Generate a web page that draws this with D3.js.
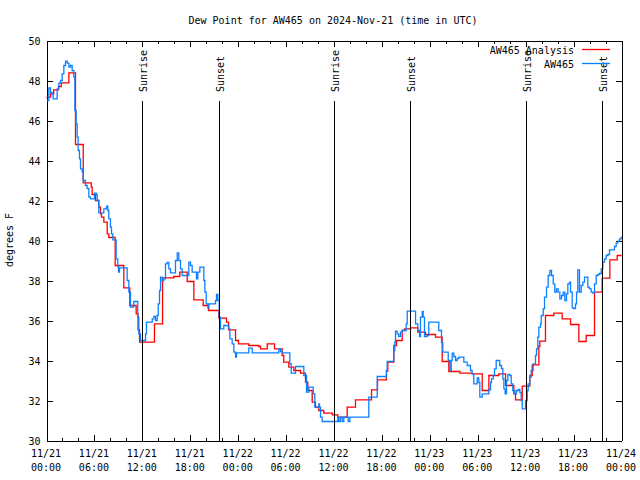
<!DOCTYPE html>
<html><head><meta charset="utf-8">
<script src="https://cdn.jsdelivr.net/npm/d3@7"></script>
<style>
body{margin:0;background:#fff}
svg{display:block}
text{font-family:"DejaVu Sans Mono",monospace;font-size:10px;fill:#000}
</style></head><body>
<svg id="chart" width="640" height="480"></svg>
<script>
const chartTitle = "Dew Point for AW465 on 2024-Nov-21 (time in UTC)";
const yAxisLabel = "degrees F";
const startUTC = Date.UTC(2024, 10, 21);
const yTickValues = [30, 32, 34, 36, 38, 40, 42, 44, 46, 48, 50];
const sunriseHours = [12.03, 36.05, 60.07];
const sunsetHours = [21.65, 45.6, 69.62];
const legendNames = ["AW465 Analysis", "AW465"];
const seriesColors = ["#ff0000", "#0a80ff"];

// [hours since 11/21 00:00 UTC, dew point F]
const analysisObs = [
[0.0,47.17],[0.5,47.33],[0.9,47.53],[1.5,47.7],[1.85,47.88],[2.8,48.38],[3.63,44.8],[4.6,42.88],[5.6,42.67],[5.72,42.3],
[6.14,42.0],[6.55,41.67],[6.76,41.33],[6.89,41.17],[7.18,40.92],[7.6,40.33],[7.8,40.15],[8.6,38.75],[9.68,37.63],[10.43,36.75],
[11.23,36.33],[11.46,35.53],[11.65,34.92],[13.52,35.83],[14.53,38.13],[15.94,38.2],[16.69,38.42],[17.62,37.95],[18.45,37.03],[19.62,36.75],
[20.29,36.5],[21.58,36.12],[22.54,35.92],[22.79,35.53],[23.67,35.0],[24.04,34.83],[25.33,34.75],[26.58,34.7],[26.8,34.58],[27.64,34.83],
[28.55,34.58],[29.51,34.25],[29.71,33.92],[30.34,33.67],[30.97,33.5],[31.81,33.37],[32.43,32.92],[32.72,32.5],[33.27,31.92],[33.68,31.67],
[34.1,31.5],[34.72,31.37],[35.78,31.28],[36.48,31.17],[37.65,31.67],[38.69,32.03],[40.7,32.53],[41.45,33.03],[42.57,33.47],[42.74,33.92],
[43.49,34.75],[43.83,35.0],[44.54,35.5],[44.83,35.58],[45.58,35.63],[46.49,35.42],[47.46,35.3],[48.71,35.17],[49.55,33.95],[50.38,33.45],
[51.75,33.37],[53.31,33.33],[54.56,32.5],[55.39,33.25],[56.64,33.33],[57.48,32.75],[58.52,32.33],[58.73,32.03],[59.57,32.72],[60.52,33.25],
[60.82,33.78],[61.65,34.7],[61.77,34.97],[62.48,36.25],[63.52,36.37],[64.57,36.08],[65.62,35.8],[66.66,34.95],[67.58,35.25],[68.62,37.42],
[69.58,38.12],[70.54,39.03],[71.46,39.25],[72.0,39.25]
];

const stationObs = [
[0.08,47.0],[0.29,47.63],[0.5,47.4],[0.71,47.3],[0.83,47.08],[1.33,47.58],[1.54,47.87],[1.75,48.0],[1.96,48.33],[2.17,48.75],
[2.38,48.97],[2.59,48.87],[2.8,48.67],[3.0,48.75],[3.21,48.5],[3.42,48.17],[3.55,46.5],[3.71,45.83],[3.84,45.17],[3.96,44.5],
[4.13,44.08],[4.26,43.58],[4.47,43.45],[4.59,43.0],[4.88,42.75],[5.09,42.6],[5.3,42.17],[5.51,42.08],[6.01,42.37],[6.22,42.3],
[6.34,42.0],[6.55,41.38],[7.18,41.58],[7.51,41.72],[7.68,41.5],[7.8,41.08],[8.01,40.67],[8.14,40.33],[8.3,40.03],[8.72,39.08],
[8.93,38.7],[9.02,38.42],[9.14,38.63],[10.1,38.0],[10.31,37.42],[10.52,36.67],[10.93,36.95],[11.43,36.17],[11.56,35.33],[11.77,35.0],
[12.4,35.33],[12.52,35.92],[13.24,36.08],[13.44,36.2],[13.65,36.0],[13.86,36.25],[13.99,36.83],[14.15,37.5],[14.28,38.17],[14.49,38.0],
[14.69,38.08],[14.9,38.83],[15.11,38.9],[15.32,38.58],[15.53,38.38],[16.15,39.0],[16.37,39.38],[16.57,39.0],[16.78,38.58],[16.99,38.25],
[17.82,38.92],[18.03,38.75],[18.24,38.42],[18.78,38.08],[18.95,38.42],[19.2,38.67],[19.7,38.0],[19.83,37.42],[20.0,36.83],[20.2,36.63],
[20.33,36.83],[21.16,37.0],[21.29,37.3],[21.46,37.0],[21.63,36.17],[21.79,35.58],[22.2,35.75],[22.83,35.58],[22.96,35.08],[23.25,34.83],
[23.46,34.42],[23.67,34.17],[23.79,34.38],[25.33,34.62],[25.76,34.38],[29.09,34.58],[29.3,34.45],[29.51,34.38],[30.47,33.83],[30.64,33.37],
[31.18,33.7],[32.22,33.25],[32.56,32.42],[32.85,32.67],[33.4,32.33],[33.6,31.67],[34.1,31.83],[34.19,31.67],[34.31,31.17],[34.52,30.95],
[36.48,31.17],[36.6,30.95],[36.81,31.17],[37.03,30.95],[37.23,31.17],[37.78,30.95],[37.98,31.17],[40.36,32.17],[41.41,33.2],[42.57,33.5],
[42.66,33.95],[43.49,34.5],[43.61,34.92],[43.7,35.47],[43.91,35.33],[44.11,35.2],[44.33,35.42],[44.54,35.5],[45.04,35.83],[45.17,36.47],
[46.21,35.83],[46.49,35.5],[46.71,35.2],[46.83,36.17],[47.05,36.45],[47.17,36.17],[47.33,35.2],[47.67,35.25],[47.87,35.92],[49.12,35.5],
[49.46,34.9],[49.62,34.42],[50.3,34.0],[50.5,33.5],[50.68,34.0],[50.8,34.37],[51.0,34.2],[51.21,34.0],[51.42,34.1],[51.63,34.17],
[52.26,33.92],[52.68,33.75],[53.09,33.5],[53.29,33.33],[53.5,32.83],[53.93,33.13],[54.13,32.9],[54.26,32.17],[54.56,32.33],[55.39,32.53],
[55.6,32.9],[55.72,33.08],[55.94,33.25],[56.1,33.58],[56.31,34.0],[56.75,33.75],[56.97,33.6],[57.14,33.08],[57.27,32.58],[57.43,32.33],
[57.6,33.0],[57.77,33.3],[58.02,33.25],[58.19,32.83],[58.39,32.5],[58.65,32.33],[58.85,32.5],[59.07,32.55],[59.27,32.4],[59.44,32.0],
[59.57,31.58],[59.98,32.0],[60.19,32.5],[60.31,32.83],[60.52,33.17],[60.69,33.5],[60.94,33.83],[61.23,34.25],[61.36,34.58],[61.52,35.17],
[61.65,35.67],[61.86,35.83],[61.95,36.25],[62.2,36.58],[62.36,37.17],[62.61,37.67],[62.82,38.25],[63.03,38.5],[63.24,38.25],[63.45,37.83],
[63.65,37.42],[63.86,37.58],[64.07,37.42],[64.28,37.08],[64.49,37.25],[64.7,37.42],[64.9,37.0],[65.11,37.33],[65.28,37.83],[65.49,37.92],
[65.62,37.42],[65.83,36.63],[66.03,36.6],[66.24,36.83],[66.37,37.42],[66.53,38.53],[66.74,37.42],[66.95,37.75],[67.16,37.92],[67.37,38.17],
[67.58,38.17],[67.78,37.67],[67.99,37.58],[68.2,37.42],[68.41,37.37],[68.62,37.83],[68.83,38.25],[69.04,38.3],[69.25,38.35],[69.46,38.58],
[69.66,38.92],[69.87,39.08],[70.08,39.25],[70.29,39.3],[70.5,39.53],[70.83,39.53],[71.12,39.7],[71.33,39.87],[71.54,39.97],[71.75,40.08],
[71.96,40.2]
];

const toDate = h => new Date(startUTC + h * 3600000);
const L = 46, R = 621, T = 40, B = 440;

const svg = d3.select("#chart");
const g = svg.append("g").attr("transform", "translate(0.5,0.5)");

const x = d3.scaleUtc().domain([toDate(0), toDate(72)]).range([L, R]);
const y = d3.scaleLinear().domain([30, 50]).range([B, T]);

const styleAxis = sel => {
  sel.attr("font-family", null).attr("font-size", null);
  sel.selectAll("path,line").attr("stroke", "#000").attr("shape-rendering", "crispEdges");
};

const majorT = x.ticks(d3.utcHour.every(6));
const minorT = x.ticks(d3.utcHour.every(2));

// bottom axis
g.append("g").attr("transform", `translate(0,${B})`)
  .call(d3.axisBottom(x).tickValues(minorT).tickSize(-3).tickSizeOuter(0).tickFormat(""))
  .call(styleAxis);
g.append("g").attr("transform", `translate(0,${B})`)
  .call(d3.axisBottom(x).tickValues(majorT).tickSize(-6).tickSizeOuter(0).tickFormat(""))
  .call(styleAxis);
// top axis
g.append("g").attr("transform", `translate(0,${T})`)
  .call(d3.axisTop(x).tickValues(minorT).tickSize(-3).tickSizeOuter(0).tickFormat(""))
  .call(styleAxis);
g.append("g").attr("transform", `translate(0,${T})`)
  .call(d3.axisTop(x).tickValues(majorT).tickSize(-6).tickSizeOuter(0).tickFormat(""))
  .call(styleAxis);
// left axis
g.append("g").attr("transform", `translate(${L},0)`)
  .call(d3.axisLeft(y).tickValues(yTickValues).tickSize(-6).tickSizeOuter(0).tickPadding(6).tickFormat(d3.format("d")))
  .call(styleAxis)
  .selectAll("text").attr("dy", "0.35em");
// right axis
g.append("g").attr("transform", `translate(${R},0)`)
  .call(d3.axisRight(y).tickValues(yTickValues).tickSize(-6).tickSizeOuter(0).tickFormat(""))
  .call(styleAxis);

// x tick labels (two lines)
const fmtDay = d3.utcFormat("%m/%d"), fmtTime = d3.utcFormat("%H:%M");
const xl = svg.append("g").selectAll("text").data(majorT).join("text")
  .attr("text-anchor", "middle")
  .attr("x", d => x(d));
xl.append("tspan").attr("x", d => x(d)).attr("y", 457).text(fmtDay);
xl.append("tspan").attr("x", d => x(d)).attr("y", 471).text(fmtTime);

// series
const line = d3.line().x(d => x(toDate(d[0]))).y(d => y(d[1])).curve(d3.curveStepAfter);
g.append("path").datum(analysisObs).attr("d", line)
  .attr("fill", "none").attr("stroke", seriesColors[0]).attr("stroke-width", 1.3);
g.append("path").datum(stationObs).attr("d", line)
  .attr("fill", "none").attr("stroke", seriesColors[1]).attr("stroke-width", 1.3);

// sun events
const sunEvents = sunriseHours.map(h => ({h, label: "Sunrise"}))
  .concat(sunsetHours.map(h => ({h, label: "Sunset"})));
g.append("g").selectAll("line").data(sunEvents).join("line")
  .attr("x1", d => Math.round(x(toDate(d.h)))).attr("x2", d => Math.round(x(toDate(d.h))))
  .attr("y1", 100).attr("y2", B)
  .attr("stroke", "#000").attr("stroke-width", 1).attr("shape-rendering", "crispEdges");
svg.append("g").selectAll("text").data(sunEvents).join("text")
  .attr("transform", d => `translate(${Math.round(x(toDate(d.h))) + 5},92) rotate(-90)`)
  .attr("text-anchor", "start")
  .text(d => d.label);

// legend
const leg = svg.append("g").selectAll("g").data(legendNames).join("g")
  .attr("transform", (d, i) => `translate(0,${i * 14})`);
leg.append("text").attr("x", 574).attr("y", 53.5).attr("text-anchor", "end").text(d => d);
leg.append("line").attr("x1", 582).attr("x2", 610).attr("y1", 49.5).attr("y2", 49.5)
  .attr("stroke", (d, i) => seriesColors[i]).attr("stroke-width", 1.3);

// title and y label
svg.append("text").attr("x", 333).attr("y", 24).attr("text-anchor", "middle").text(chartTitle);
svg.append("text").attr("transform", "translate(13,240) rotate(-90)").attr("text-anchor", "middle").text(yAxisLabel);
</script>
</body></html>
